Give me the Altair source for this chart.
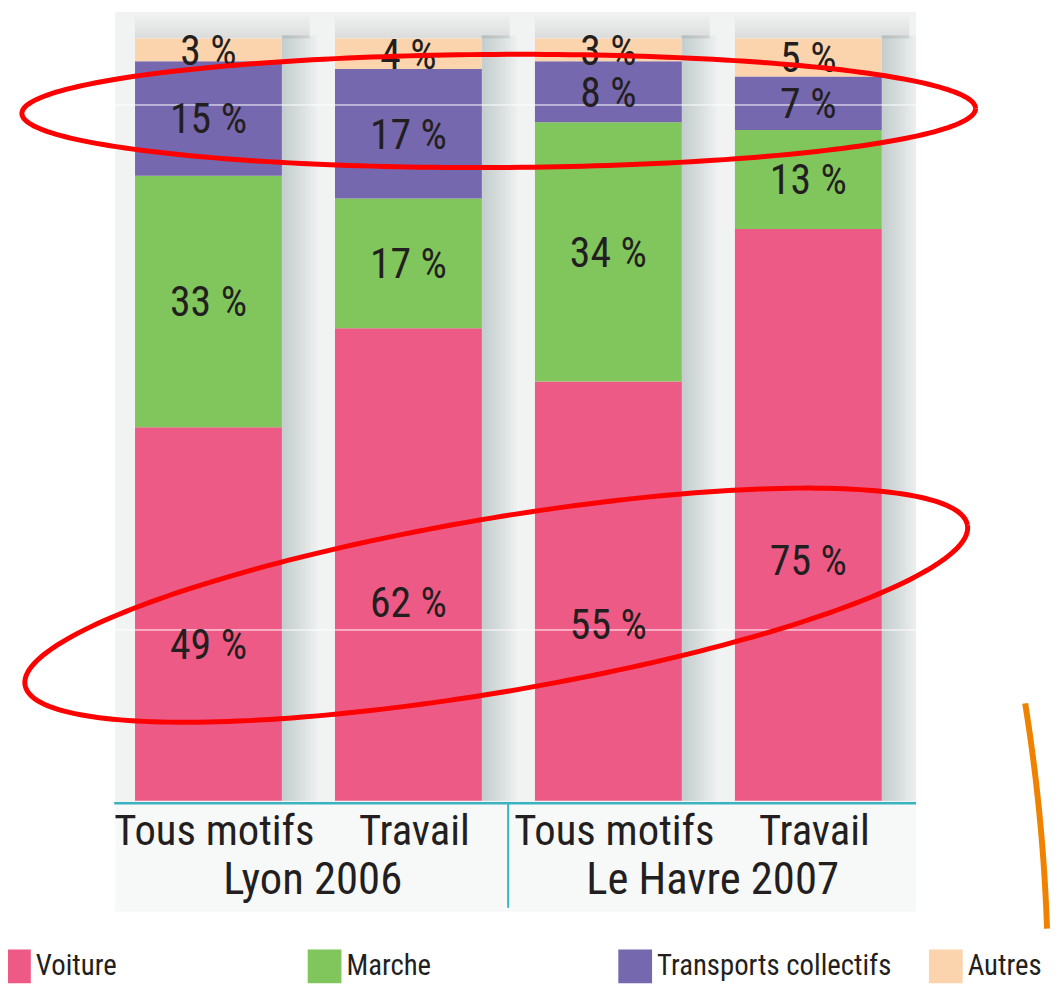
import altair as alt
import pandas as pd
import numpy as np

# ---------------- data ----------------
groups = ["Lyon 2006", "Lyon 2006", "Le Havre 2007", "Le Havre 2007"]
motifs = ["Tous motifs", "Travail", "Tous motifs", "Travail"]
modes = ["Voiture", "Marche", "Transports collectifs", "Autres"]
voiture = [49, 62, 55, 75]
marche = [33, 17, 34, 13]
transports = [15, 17, 8, 7]
autres = [3, 4, 3, 5]
colors = ["#ee5a86", "#80c65c", "#7668ae", "#fbd4ae"]

keys = [f"{g}|{m}" for g, m in zip(groups, motifs)]
series = [voiture, marche, transports, autres]
rows = []
for i, k in enumerate(keys):
    for j, (mode, vals) in enumerate(zip(modes, series)):
        rows.append({"key": k, "group": groups[i], "motif": motifs[i], "mode": mode,
                     "order": j, "value": vals[i], "label": f"{vals[i]} %"})
df = pd.DataFrame(rows)
bars_df = pd.DataFrame({"key": keys, "motif": motifs, "group": groups})
grp_df = bars_df.drop_duplicates("group")
one = pd.DataFrame({"a": [0]})

# ---------------- layout / style ----------------
W, H = 1051, 976
FONT = "'Roboto Condensed', 'Liberation Sans Narrow', 'Liberation Sans', Arial, sans-serif"
INK = "#231f20"
TEAL = "#3ab2c0"
SH = "#6f757b"

xs = alt.Scale(domain=keys, range=[101.25, 907.25], paddingInner=0.2655, paddingOuter=0.13275)
ys = alt.Scale(domain=[0, 100], range=[795, 27], nice=False, zero=True)
cs = alt.Scale(domain=modes, range=colors)
X = alt.X("key:N", scale=xs, axis=None)

# panel background
panel = alt.Chart(one).mark_rect(color="#f1f2f2").encode(
    x=alt.value(108), x2=alt.value(915), y=alt.value(0), y2=alt.value(797))
panel_low = alt.Chart(one).mark_rect(color="#f7f8f8").encode(
    x=alt.value(108), x2=alt.value(915), y=alt.value(797), y2=alt.value(907))

# soft shadows around the bars (stacked translucent strips -> smooth fade)
shadows = []
for k in range(1, 11):
    w = 3.5 * k
    shadows.append(alt.Chart(bars_df).mark_bar(size=w, xOffset=74 + w / 2, color=SH, opacity=0.032).encode(
        x=X, y=alt.Y(datum=0, scale=ys, axis=None), y2=alt.datum(100.4)))
for k in range(1, 8):
    h = 0.45 * k
    shadows.append(alt.Chart(bars_df).mark_bar(size=176, xOffset=14, color=SH, opacity=0.018).encode(
        x=X, y=alt.Y(datum=100, scale=ys, axis=None), y2=alt.datum(100 + h)))

legend = alt.Legend(
    orient="none", legendX=-11, legendY=945, direction="horizontal", columns=4,
    gridAlign="all", columnPadding=37, padding=0, title=None,
    symbolType="square", symbolSize=34 * 34, symbolStrokeWidth=0, symbolOffset=0,
    labelOffset=5, labelFont=FONT, labelFontSize=29, labelColor=INK, labelLimit=400,
)
bars = alt.Chart(df).mark_bar().encode(
    x=X,
    y=alt.Y("value:Q", stack="zero", scale=ys, axis=None),
    color=alt.Color("mode:N", scale=cs, legend=legend, sort=modes),
    order=alt.Order("order:Q", sort="ascending"),
)

labels = alt.Chart(df).transform_stack(
    stack="value", groupby=["key"], as_=["v0", "v1"],
    sort=[alt.SortField("order", order="ascending")]
).transform_calculate(
    ymid="datum.v0 + (datum.v1 - datum.v0) * (datum.mode == 'Voiture' ? 0.42 : 0.5)"
).mark_text(font=FONT, fontSize=42, color=INK, baseline="alphabetic", dy=15).encode(
    x=X, y=alt.Y("ymid:Q", scale=ys, axis=None), text="label:N")

# scan artefact lines
art1 = alt.Chart(one).mark_rule(color="white", strokeWidth=1).encode(
    x=alt.value(108), x2=alt.value(915), y=alt.value(94))
art2 = alt.Chart(one).mark_rule(color="white", strokeWidth=1).encode(
    x=alt.value(108), x2=alt.value(915), y=alt.value(623))

# axis
axis_line = alt.Chart(one).mark_rule(color=TEAL, strokeWidth=2.5).encode(
    x=alt.value(107), x2=alt.value(915), y=alt.value(797.5))
sep_line = alt.Chart(one).mark_rule(color=TEAL, strokeWidth=2).encode(
    x=alt.value(504), y=alt.value(797), y2=alt.value(903))
motif_tx = alt.Chart(bars_df).mark_text(font=FONT, fontSize=43, color=INK, baseline="alphabetic", dx=6).encode(
    x=X, y=alt.value(840), text="motif:N")
group_tx = alt.Chart(grp_df).mark_text(font=FONT, fontSize=45, color=INK, baseline="alphabetic", dx=105).encode(
    x=X, y=alt.value(889), text="group:N")

# red hand-drawn ellipses (annotation)
def ellipse(cx, cy, a, b, deg, n=240):
    th = np.radians(deg)
    t = np.linspace(0, 2 * np.pi, n)
    xx = cx + a * np.cos(t) * np.cos(th) - b * np.sin(t) * np.sin(th)
    yy = cy + a * np.cos(t) * np.sin(th) + b * np.sin(t) * np.cos(th)
    return pd.DataFrame({"px": xx, "py": yy, "i": np.arange(n)})

ell1 = alt.Chart(ellipse(494.5, 100, 480.5, 57, -0.3)).mark_line(color="#ff0000", strokeWidth=5).encode(
    x=alt.X("px:Q", scale=None), y=alt.Y("py:Q", scale=None), order="i:Q")
ell2 = alt.Chart(ellipse(492, 598, 481.6, 87.4, -9.63)).mark_line(color="#ff0000", strokeWidth=5).encode(
    x=alt.X("px:Q", scale=None), y=alt.Y("py:Q", scale=None), order="i:Q")

# orange stroke at the right
oy = np.array([697.0, 805.0, 924.0])
ox = np.array([1025.0, 1039.0, 1047.0])
cf = np.polyfit(oy, ox, 2)
yy = np.linspace(697, 924, 40)
orange_df = pd.DataFrame({"px": np.polyval(cf, yy), "py": yy, "i": np.arange(40)})
orange = alt.Chart(orange_df).mark_line(color="#ef8200", strokeWidth=6).encode(
    x=alt.X("px:Q", scale=None), y=alt.Y("py:Q", scale=None), order="i:Q")

chart = alt.layer(
    panel, panel_low, *shadows, bars, art1, art2, labels,
    axis_line, sep_line, motif_tx, group_tx, ell1, ell2, orange
).properties(
    width=W, height=H, autosize=alt.AutoSizeParams(type="none"), padding=0,
    background="white"
).configure_view(stroke=None)

chart.save("out.html", embed_options={"renderer": "svg", "actions": False})
